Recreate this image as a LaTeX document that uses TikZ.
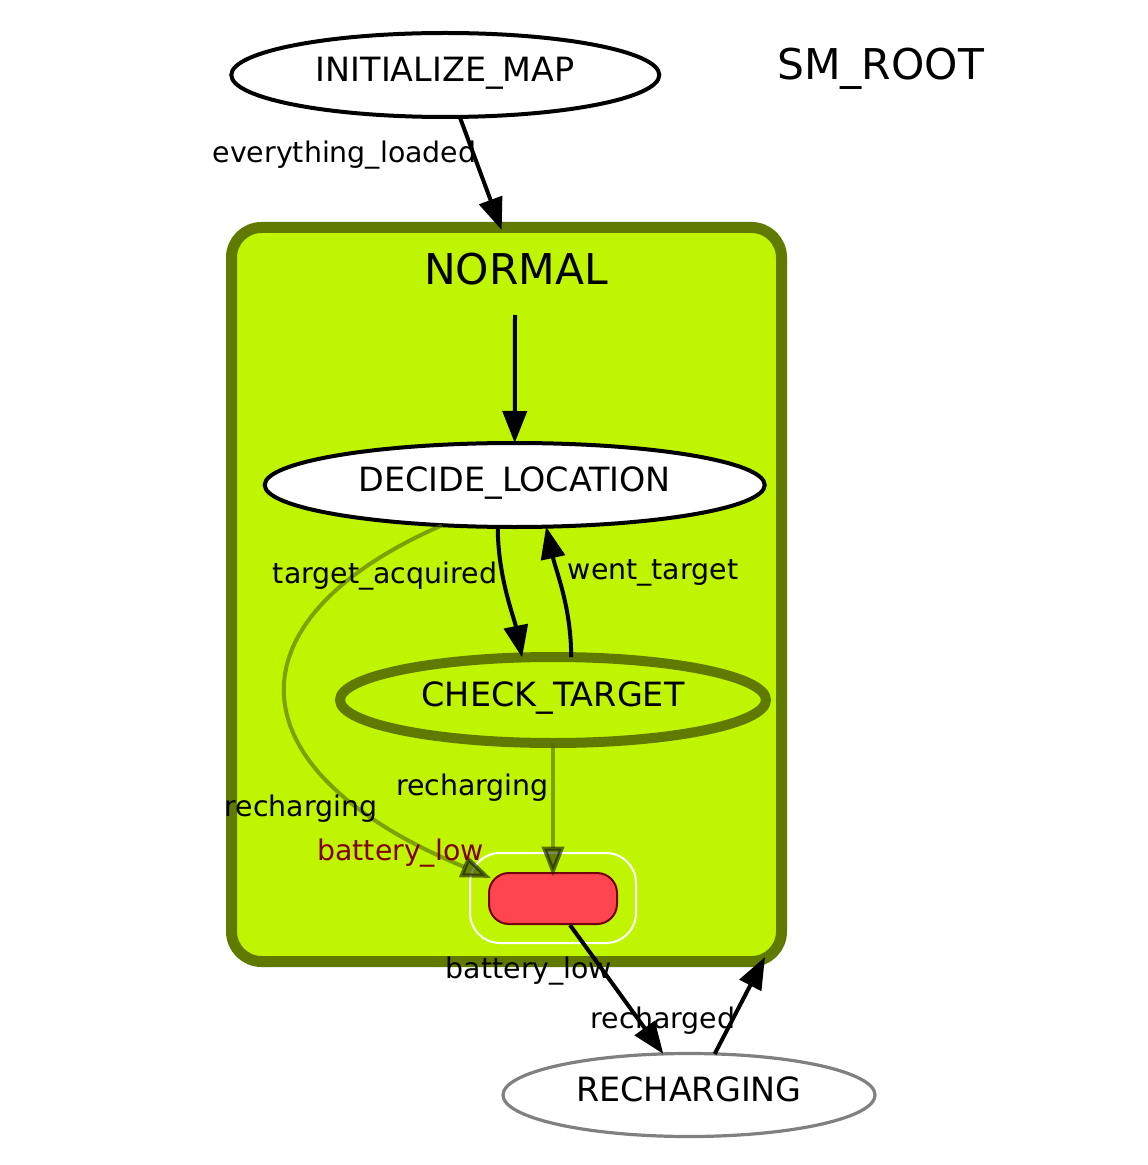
\documentclass[tikz,border=0pt]{standalone}
\usepackage{fontspec}
\setmainfont{DejaVu Sans}
\usetikzlibrary{arrows.meta,shapes.geometric}
\definecolor{clfill}{RGB}{191,245,0}
\definecolor{clborder}{RGB}{96,122,0}
\definecolor{rbfill}{RGB}{255,70,80}
\definecolor{rbborder}{RGB}{115,0,15}
\definecolor{lowred}{RGB}{128,0,0}
\definecolor{rcgray}{RGB}{128,128,128}
\definecolor{fadeline}{RGB}{80,105,0}
\begin{document}
\begin{tikzpicture}[x=0.5pt,y=-0.5pt,
  state/.style={ellipse, draw=black, fill=white, line width=2pt, inner sep=0pt, outer sep=0pt,
    text height=6.5pt, text depth=0pt, font=\fontsize{16.7pt}{20pt}\selectfont},
  elabel/.style={anchor=base, inner sep=0pt, font=\fontsize{14.2pt}{17pt}\selectfont},
  clabel/.style={anchor=base, inner sep=0pt, font=\fontsize{21.2pt}{25pt}\selectfont},
  blk/.style={line width=2pt, -{Triangle[length=16pt,width=12pt]}},
  faded/.style={line width=2pt, draw=fadeline, opacity=0.6,
    -{Triangle[length=15pt,width=11pt,color=black!80!clborder,fill=black!55!clborder]}}
]
\fill[white] (0,0) rectangle (1147,1165);
\useasboundingbox (0,0) rectangle (1147,1165);

% cluster NORMAL
\node[draw=clborder, fill=clfill, line width=5.5pt, rounded corners=15pt,
      minimum width=275pt, minimum height=367pt, inner sep=0pt] (normal) at (506.5,594.5) {};

% states
\node[state, minimum width=214pt, minimum height=42pt] (im) at (445.3,75) {INITIALIZE\_MAP};
\node[state, minimum width=250pt, minimum height=42pt] (dl) at (514.7,485) {DECIDE\_LOCATION};
\node[state, fill=clfill, draw=clborder, line width=5pt, minimum width=213pt, minimum height=43pt] (ct) at (553,700) {CHECK\_TARGET};
\node[state, draw=rcgray, line width=1.6pt, minimum width=186pt, minimum height=41.5pt] (rc) at (689,1095) {RECHARGING};

% outcome box
\node[draw=white, line width=1pt, rounded corners=15pt, minimum width=83pt, minimum height=45pt, inner sep=0pt] (wb) at (553,898) {};
\node[draw=rbborder, fill=rbfill, line width=1pt, rounded corners=10pt, minimum width=64pt, minimum height=25.5pt, inner sep=0pt] (rb) at (553,898.5) {};

% edges
\coordinate (init) at (515,315);
\draw[blk] (init) -- (dl.north);
\draw[blk] (im.-71) -- ([xshift=-2.4pt,yshift=-4pt]normal.north);
\draw[blk] (dl.-112) .. controls +(0,50) and +(-8,-40) .. (ct.126);
\draw[blk] (ct.67) .. controls +(0,-50) and +(10,45) .. (dl.-53.5);
\draw[faded] (dl.-151) .. controls (225,620) and (230,770) .. ([xshift=1.5pt,yshift=-3pt]rb.north west);
\draw[faded] (ct.south) -- ([yshift=-2.3pt]rb.north);
\draw[blk] ([xshift=8.5pt]rb.south) -- (rc.122);
\draw[blk] (rc.58) -- ([xshift=-11pt,yshift=5pt]normal.south east);

% labels
\node[clabel] (rootlbl) at (880.5,80) {SM\_ROOT};
\node[clabel] (normallbl) at (516,285) {NORMAL};
\node[elabel] (l1) at (344.5,163) {everything\_loaded};
\node[elabel] (l2) at (385,583) {target\_acquired};
\node[elabel] (l3) at (653,579) {went\_target};
\node[elabel] (l4) at (472.5,795.7) {recharging};
\node[elabel] (l5) at (301,816) {recharging};
\node[elabel, text=lowred] (l6) at (400.5,860.7) {battery\_low};
\node[elabel] (l7) at (529,978.3) {battery\_low};
\node[elabel] (l8) at (663,1028.3) {recharged};
\end{tikzpicture}
\end{document}
